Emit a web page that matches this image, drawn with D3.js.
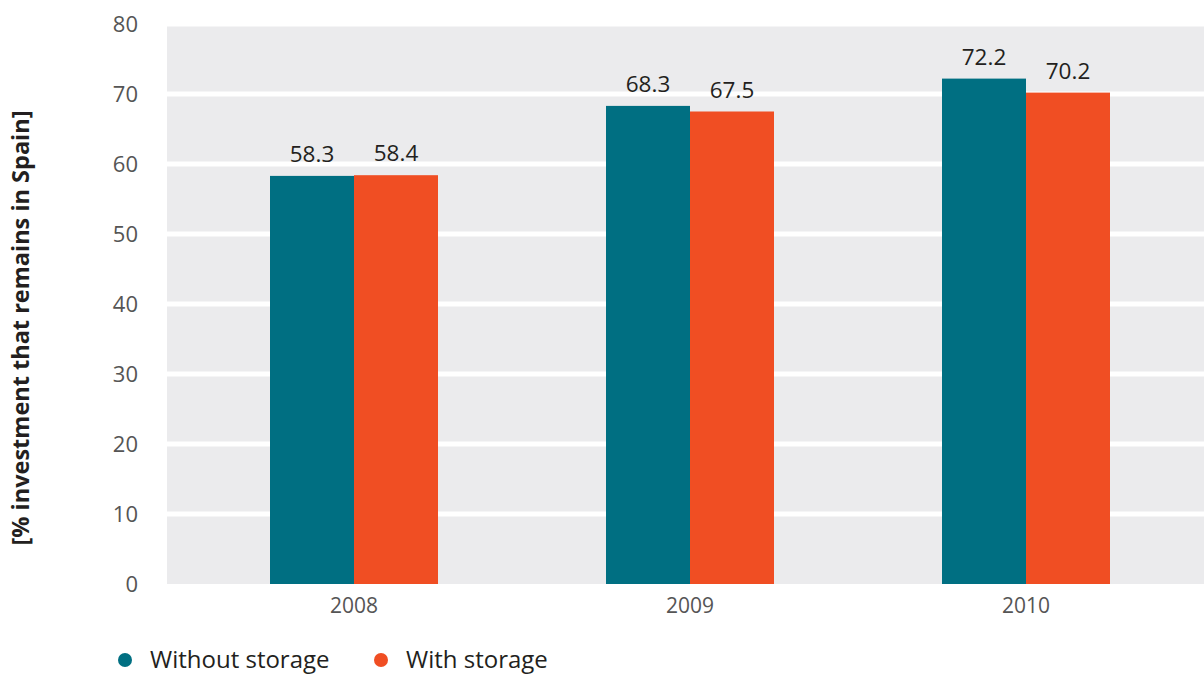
<!DOCTYPE html>
<html>
<head>
<meta charset="utf-8">
<script src="https://cdn.jsdelivr.net/npm/d3@7"></script>
<style>
  html, body { margin: 0; padding: 0; background: #fff; }
  svg { display: block; font-family: "Open Sans", "Noto Sans", sans-serif; }
</style>
</head>
<body>
<svg id="chart" width="1204" height="677"></svg>
<script>
// Share of investment that remains in Spain, by year and storage option
const years = ["2008", "2009", "2010"];
const seriesNames = ["Without storage", "With storage"];
const withoutStorage = [58.3, 68.3, 72.2];
const withStorage = [58.4, 67.5, 70.2];
const yTicks = [0, 10, 20, 30, 40, 50, 60, 70, 80];
const colors = ["#006f82", "#f04e23"];

const svg = d3.select("#chart");
const plot = { left: 167, right: 1204, top: 24, bottom: 584 };

const x = d3.scaleBand().domain(years).range([186, 1194])
  .paddingInner(0.5).paddingOuter(0.25);
const xs = d3.scaleBand().domain(seriesNames).range([0, x.bandwidth()]);
const y = d3.scaleLinear().domain([0, 80]).range([plot.bottom, plot.top]);

// plot background
svg.append("rect")
  .attr("x", plot.left).attr("y", plot.top)
  .attr("width", plot.right - plot.left).attr("height", plot.bottom - plot.top)
  .attr("fill", "#ebebed");

// white gridlines
svg.append("g").selectAll("line").data(yTicks.filter(d => d > 0)).join("line")
  .attr("x1", plot.left).attr("x2", plot.right)
  .attr("y1", d => y(d)).attr("y2", d => y(d))
  .attr("stroke", "#fff").attr("stroke-width", 5);

// y axis labels
const yAxis = svg.append("g")
  .attr("transform", `translate(138,0)`)
  .call(d3.axisLeft(y).tickValues(yTicks).tickSize(0).tickPadding(0));
yAxis.select(".domain").remove();
yAxis.selectAll("text")
  .attr("fill", "#555").attr("font-size", 22)
  .attr("font-family", "'Open Sans', sans-serif");

// x axis labels
const xAxis = svg.append("g")
  .attr("transform", `translate(0,${plot.bottom})`)
  .call(d3.axisBottom(x).tickSize(0).tickPadding(14));
xAxis.select(".domain").remove();
xAxis.selectAll("text")
  .attr("fill", "#555").attr("font-size", 21)
  .attr("font-family", "'Open Sans', sans-serif");

// bars
const rows = years.map((yr, i) => ({
  year: yr,
  values: [
    { name: seriesNames[0], value: withoutStorage[i] },
    { name: seriesNames[1], value: withStorage[i] }
  ]
}));

const groups = svg.append("g").selectAll("g").data(rows).join("g")
  .attr("transform", d => `translate(${x(d.year)},0)`);

groups.selectAll("rect").data(d => d.values).join("rect")
  .attr("x", d => xs(d.name))
  .attr("width", xs.bandwidth())
  .attr("y", d => y(d.value))
  .attr("height", d => y(0) - y(d.value))
  .attr("fill", (d, i) => colors[i]);

groups.selectAll("text").data(d => d.values).join("text")
  .attr("x", d => xs(d.name) + xs.bandwidth() / 2)
  .attr("y", d => y(d.value) - 14)
  .attr("text-anchor", "middle")
  .attr("fill", "#231f20")
  .attr("font-size", 22.5)
  .text(d => d.value.toFixed(1));

// y axis title
svg.append("text")
  .attr("transform", "translate(29,328) rotate(-90)")
  .attr("text-anchor", "middle")
  .attr("font-weight", "bold")
  .attr("font-size", 23.5)
  .attr("fill", "#231f20")
  .text("[% investment that remains in Spain]");

// legend
const legendX = [125, 381];
const legend = svg.append("g").selectAll("g").data(seriesNames).join("g")
  .attr("transform", (d, i) => `translate(${legendX[i]},660)`);
legend.append("circle").attr("r", 7).attr("fill", (d, i) => colors[i]);
legend.append("text")
  .attr("x", 25).attr("dy", "0.35em")
  .attr("font-size", 24).attr("fill", "#231f20")
  .text(d => d);
</script>
</body>
</html>
